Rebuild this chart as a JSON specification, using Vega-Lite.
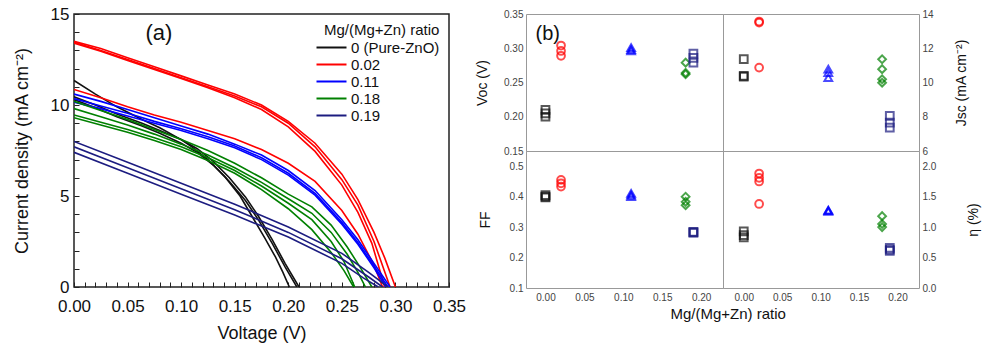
{
  "$schema": "https://vega.github.io/schema/vega-lite/v6.json",
  "padding": {"left": 12, "top": 4, "right": 2, "bottom": 2},
  "background": "white",
  "config": {
    "font": "Liberation Sans",
    "axis": {"grid": false, "domain": false, "labelColor": "#111", "titleColor": "#111", "titleFontWeight": "normal"},
    "view": {"stroke": "#222"}
  },
  "datasets": {
    "jv": [
      {"ratio":"0 (Pure-ZnO)","curve":"K1","v":0,"j":11.35},{"ratio":"0 (Pure-ZnO)","curve":"K1","v":0.02,"j":10.6},{"ratio":"0 (Pure-ZnO)","curve":"K1","v":0.04,"j":9.9},{"ratio":"0 (Pure-ZnO)","curve":"K1","v":0.0635,"j":9.2},{"ratio":"0 (Pure-ZnO)","curve":"K1","v":0.08,"j":8.75},{"ratio":"0 (Pure-ZnO)","curve":"K1","v":0.1,"j":8.1},{"ratio":"0 (Pure-ZnO)","curve":"K1","v":0.11,"j":7.7},{"ratio":"0 (Pure-ZnO)","curve":"K1","v":0.125,"j":7.0},{"ratio":"0 (Pure-ZnO)","curve":"K1","v":0.141,"j":6.05},{"ratio":"0 (Pure-ZnO)","curve":"K1","v":0.155,"j":5.0},{"ratio":"0 (Pure-ZnO)","curve":"K1","v":0.166,"j":3.9},{"ratio":"0 (Pure-ZnO)","curve":"K1","v":0.178,"j":2.7},{"ratio":"0 (Pure-ZnO)","curve":"K1","v":0.188,"j":1.65},{"ratio":"0 (Pure-ZnO)","curve":"K1","v":0.195,"j":0.8},{"ratio":"0 (Pure-ZnO)","curve":"K1","v":0.201,"j":0},
      {"ratio":"0 (Pure-ZnO)","curve":"K2","v":0,"j":10.45},{"ratio":"0 (Pure-ZnO)","curve":"K2","v":0.02,"j":10.0},{"ratio":"0 (Pure-ZnO)","curve":"K2","v":0.04,"j":9.5},{"ratio":"0 (Pure-ZnO)","curve":"K2","v":0.0635,"j":9.0},{"ratio":"0 (Pure-ZnO)","curve":"K2","v":0.08,"j":8.6},{"ratio":"0 (Pure-ZnO)","curve":"K2","v":0.1,"j":8.1},{"ratio":"0 (Pure-ZnO)","curve":"K2","v":0.115,"j":7.6},{"ratio":"0 (Pure-ZnO)","curve":"K2","v":0.13,"j":6.9},{"ratio":"0 (Pure-ZnO)","curve":"K2","v":0.145,"j":6.0},{"ratio":"0 (Pure-ZnO)","curve":"K2","v":0.16,"j":4.95},{"ratio":"0 (Pure-ZnO)","curve":"K2","v":0.172,"j":3.9},{"ratio":"0 (Pure-ZnO)","curve":"K2","v":0.185,"j":2.6},{"ratio":"0 (Pure-ZnO)","curve":"K2","v":0.197,"j":1.3},{"ratio":"0 (Pure-ZnO)","curve":"K2","v":0.21,"j":0},
      {"ratio":"0 (Pure-ZnO)","curve":"K3","v":0,"j":10.3},{"ratio":"0 (Pure-ZnO)","curve":"K3","v":0.02,"j":9.85},{"ratio":"0 (Pure-ZnO)","curve":"K3","v":0.04,"j":9.35},{"ratio":"0 (Pure-ZnO)","curve":"K3","v":0.0635,"j":8.85},{"ratio":"0 (Pure-ZnO)","curve":"K3","v":0.08,"j":8.45},{"ratio":"0 (Pure-ZnO)","curve":"K3","v":0.1,"j":7.9},{"ratio":"0 (Pure-ZnO)","curve":"K3","v":0.115,"j":7.4},{"ratio":"0 (Pure-ZnO)","curve":"K3","v":0.13,"j":6.7},{"ratio":"0 (Pure-ZnO)","curve":"K3","v":0.145,"j":5.8},{"ratio":"0 (Pure-ZnO)","curve":"K3","v":0.16,"j":4.75},{"ratio":"0 (Pure-ZnO)","curve":"K3","v":0.172,"j":3.7},{"ratio":"0 (Pure-ZnO)","curve":"K3","v":0.185,"j":2.4},{"ratio":"0 (Pure-ZnO)","curve":"K3","v":0.197,"j":1.1},{"ratio":"0 (Pure-ZnO)","curve":"K3","v":0.208,"j":0},
      {"ratio":"0.02","curve":"R1","v":0,"j":13.5},{"ratio":"0.02","curve":"R1","v":0.025,"j":13.1},{"ratio":"0.02","curve":"R1","v":0.05,"j":12.6},{"ratio":"0.02","curve":"R1","v":0.075,"j":12.1},{"ratio":"0.02","curve":"R1","v":0.1,"j":11.6},{"ratio":"0.02","curve":"R1","v":0.125,"j":11.1},{"ratio":"0.02","curve":"R1","v":0.15,"j":10.6},{"ratio":"0.02","curve":"R1","v":0.175,"j":10.0},{"ratio":"0.02","curve":"R1","v":0.2,"j":9.1},{"ratio":"0.02","curve":"R1","v":0.225,"j":7.9},{"ratio":"0.02","curve":"R1","v":0.25,"j":6.2},{"ratio":"0.02","curve":"R1","v":0.265,"j":4.8},{"ratio":"0.02","curve":"R1","v":0.28,"j":3.0},{"ratio":"0.02","curve":"R1","v":0.29,"j":1.6},{"ratio":"0.02","curve":"R1","v":0.3,"j":0},
      {"ratio":"0.02","curve":"R2","v":0,"j":13.45},{"ratio":"0.02","curve":"R2","v":0.025,"j":13.0},{"ratio":"0.02","curve":"R2","v":0.05,"j":12.5},{"ratio":"0.02","curve":"R2","v":0.075,"j":12.0},{"ratio":"0.02","curve":"R2","v":0.1,"j":11.5},{"ratio":"0.02","curve":"R2","v":0.125,"j":11.0},{"ratio":"0.02","curve":"R2","v":0.15,"j":10.5},{"ratio":"0.02","curve":"R2","v":0.175,"j":9.9},{"ratio":"0.02","curve":"R2","v":0.2,"j":9.0},{"ratio":"0.02","curve":"R2","v":0.225,"j":7.7},{"ratio":"0.02","curve":"R2","v":0.25,"j":5.9},{"ratio":"0.02","curve":"R2","v":0.265,"j":4.5},{"ratio":"0.02","curve":"R2","v":0.28,"j":2.5},{"ratio":"0.02","curve":"R2","v":0.295,"j":0},
      {"ratio":"0.02","curve":"R3","v":0,"j":13.4},{"ratio":"0.02","curve":"R3","v":0.025,"j":12.95},{"ratio":"0.02","curve":"R3","v":0.05,"j":12.45},{"ratio":"0.02","curve":"R3","v":0.075,"j":11.95},{"ratio":"0.02","curve":"R3","v":0.1,"j":11.45},{"ratio":"0.02","curve":"R3","v":0.125,"j":10.95},{"ratio":"0.02","curve":"R3","v":0.15,"j":10.4},{"ratio":"0.02","curve":"R3","v":0.175,"j":9.75},{"ratio":"0.02","curve":"R3","v":0.2,"j":8.8},{"ratio":"0.02","curve":"R3","v":0.225,"j":7.45},{"ratio":"0.02","curve":"R3","v":0.25,"j":5.6},{"ratio":"0.02","curve":"R3","v":0.265,"j":4.1},{"ratio":"0.02","curve":"R3","v":0.278,"j":2.4},{"ratio":"0.02","curve":"R3","v":0.29,"j":0},
      {"ratio":"0.02","curve":"R4","v":0,"j":10.85},{"ratio":"0.02","curve":"R4","v":0.025,"j":10.4},{"ratio":"0.02","curve":"R4","v":0.05,"j":9.9},{"ratio":"0.02","curve":"R4","v":0.075,"j":9.45},{"ratio":"0.02","curve":"R4","v":0.1,"j":9.05},{"ratio":"0.02","curve":"R4","v":0.125,"j":8.6},{"ratio":"0.02","curve":"R4","v":0.15,"j":8.15},{"ratio":"0.02","curve":"R4","v":0.175,"j":7.55},{"ratio":"0.02","curve":"R4","v":0.2,"j":6.8},{"ratio":"0.02","curve":"R4","v":0.225,"j":5.8},{"ratio":"0.02","curve":"R4","v":0.25,"j":4.2},{"ratio":"0.02","curve":"R4","v":0.265,"j":2.9},{"ratio":"0.02","curve":"R4","v":0.28,"j":1.2},{"ratio":"0.02","curve":"R4","v":0.288,"j":0},
      {"ratio":"0.11","curve":"B1","v":0,"j":10.6},{"ratio":"0.11","curve":"B1","v":0.025,"j":10.2},{"ratio":"0.11","curve":"B1","v":0.05,"j":9.75},{"ratio":"0.11","curve":"B1","v":0.075,"j":9.3},{"ratio":"0.11","curve":"B1","v":0.1,"j":8.85},{"ratio":"0.11","curve":"B1","v":0.125,"j":8.4},{"ratio":"0.11","curve":"B1","v":0.15,"j":7.85},{"ratio":"0.11","curve":"B1","v":0.175,"j":7.25},{"ratio":"0.11","curve":"B1","v":0.2,"j":6.4},{"ratio":"0.11","curve":"B1","v":0.225,"j":5.3},{"ratio":"0.11","curve":"B1","v":0.25,"j":3.7},{"ratio":"0.11","curve":"B1","v":0.265,"j":2.6},{"ratio":"0.11","curve":"B1","v":0.28,"j":1.3},{"ratio":"0.11","curve":"B1","v":0.295,"j":0},
      {"ratio":"0.11","curve":"B2","v":0,"j":10.35},{"ratio":"0.11","curve":"B2","v":0.025,"j":9.95},{"ratio":"0.11","curve":"B2","v":0.05,"j":9.55},{"ratio":"0.11","curve":"B2","v":0.075,"j":9.1},{"ratio":"0.11","curve":"B2","v":0.1,"j":8.7},{"ratio":"0.11","curve":"B2","v":0.125,"j":8.25},{"ratio":"0.11","curve":"B2","v":0.15,"j":7.75},{"ratio":"0.11","curve":"B2","v":0.175,"j":7.1},{"ratio":"0.11","curve":"B2","v":0.2,"j":6.25},{"ratio":"0.11","curve":"B2","v":0.225,"j":5.15},{"ratio":"0.11","curve":"B2","v":0.25,"j":3.55},{"ratio":"0.11","curve":"B2","v":0.265,"j":2.45},{"ratio":"0.11","curve":"B2","v":0.28,"j":1.15},{"ratio":"0.11","curve":"B2","v":0.293,"j":0},
      {"ratio":"0.11","curve":"B3","v":0,"j":10.15},{"ratio":"0.11","curve":"B3","v":0.025,"j":9.8},{"ratio":"0.11","curve":"B3","v":0.05,"j":9.4},{"ratio":"0.11","curve":"B3","v":0.075,"j":9.0},{"ratio":"0.11","curve":"B3","v":0.1,"j":8.6},{"ratio":"0.11","curve":"B3","v":0.125,"j":8.15},{"ratio":"0.11","curve":"B3","v":0.15,"j":7.65},{"ratio":"0.11","curve":"B3","v":0.175,"j":7.0},{"ratio":"0.11","curve":"B3","v":0.2,"j":6.15},{"ratio":"0.11","curve":"B3","v":0.225,"j":5.05},{"ratio":"0.11","curve":"B3","v":0.25,"j":3.45},{"ratio":"0.11","curve":"B3","v":0.265,"j":2.35},{"ratio":"0.11","curve":"B3","v":0.28,"j":1.05},{"ratio":"0.11","curve":"B3","v":0.291,"j":0},
      {"ratio":"0.18","curve":"G1","v":0,"j":10.2},{"ratio":"0.18","curve":"G1","v":0.025,"j":9.7},{"ratio":"0.18","curve":"G1","v":0.05,"j":9.2},{"ratio":"0.18","curve":"G1","v":0.075,"j":8.65},{"ratio":"0.18","curve":"G1","v":0.1,"j":8.1},{"ratio":"0.18","curve":"G1","v":0.125,"j":7.5},{"ratio":"0.18","curve":"G1","v":0.15,"j":6.8},{"ratio":"0.18","curve":"G1","v":0.175,"j":6.0},{"ratio":"0.18","curve":"G1","v":0.2,"j":5.1},{"ratio":"0.18","curve":"G1","v":0.222,"j":4.4},{"ratio":"0.18","curve":"G1","v":0.24,"j":3.4},{"ratio":"0.18","curve":"G1","v":0.255,"j":2.2},{"ratio":"0.18","curve":"G1","v":0.268,"j":1.0},{"ratio":"0.18","curve":"G1","v":0.278,"j":0},
      {"ratio":"0.18","curve":"G2","v":0,"j":9.8},{"ratio":"0.18","curve":"G2","v":0.025,"j":9.35},{"ratio":"0.18","curve":"G2","v":0.05,"j":8.9},{"ratio":"0.18","curve":"G2","v":0.075,"j":8.4},{"ratio":"0.18","curve":"G2","v":0.1,"j":7.85},{"ratio":"0.18","curve":"G2","v":0.125,"j":7.25},{"ratio":"0.18","curve":"G2","v":0.15,"j":6.55},{"ratio":"0.18","curve":"G2","v":0.175,"j":5.75},{"ratio":"0.18","curve":"G2","v":0.2,"j":4.85},{"ratio":"0.18","curve":"G2","v":0.222,"j":4.05},{"ratio":"0.18","curve":"G2","v":0.24,"j":3.0},{"ratio":"0.18","curve":"G2","v":0.255,"j":1.8},{"ratio":"0.18","curve":"G2","v":0.265,"j":0.8},{"ratio":"0.18","curve":"G2","v":0.272,"j":0},
      {"ratio":"0.18","curve":"G3","v":0,"j":9.45},{"ratio":"0.18","curve":"G3","v":0.025,"j":9.05},{"ratio":"0.18","curve":"G3","v":0.05,"j":8.65},{"ratio":"0.18","curve":"G3","v":0.075,"j":8.2},{"ratio":"0.18","curve":"G3","v":0.1,"j":7.7},{"ratio":"0.18","curve":"G3","v":0.125,"j":7.1},{"ratio":"0.18","curve":"G3","v":0.15,"j":6.4},{"ratio":"0.18","curve":"G3","v":0.175,"j":5.55},{"ratio":"0.18","curve":"G3","v":0.2,"j":4.6},{"ratio":"0.18","curve":"G3","v":0.222,"j":3.7},{"ratio":"0.18","curve":"G3","v":0.24,"j":2.5},{"ratio":"0.18","curve":"G3","v":0.252,"j":1.4},{"ratio":"0.18","curve":"G3","v":0.262,"j":0},
      {"ratio":"0.18","curve":"G4","v":0,"j":9.3},{"ratio":"0.18","curve":"G4","v":0.025,"j":8.9},{"ratio":"0.18","curve":"G4","v":0.05,"j":8.5},{"ratio":"0.18","curve":"G4","v":0.075,"j":8.05},{"ratio":"0.18","curve":"G4","v":0.1,"j":7.55},{"ratio":"0.18","curve":"G4","v":0.125,"j":6.95},{"ratio":"0.18","curve":"G4","v":0.15,"j":6.25},{"ratio":"0.18","curve":"G4","v":0.175,"j":5.35},{"ratio":"0.18","curve":"G4","v":0.2,"j":4.3},{"ratio":"0.18","curve":"G4","v":0.222,"j":3.15},{"ratio":"0.18","curve":"G4","v":0.24,"j":1.9},{"ratio":"0.18","curve":"G4","v":0.252,"j":0.9},{"ratio":"0.18","curve":"G4","v":0.261,"j":0},
      {"ratio":"0.19","curve":"N1","v":0,"j":8.0},{"ratio":"0.19","curve":"N1","v":0.05,"j":6.85},{"ratio":"0.19","curve":"N1","v":0.1,"j":5.7},{"ratio":"0.19","curve":"N1","v":0.15,"j":4.55},{"ratio":"0.19","curve":"N1","v":0.2,"j":3.3},{"ratio":"0.19","curve":"N1","v":0.25,"j":1.85},{"ratio":"0.19","curve":"N1","v":0.275,"j":0.8},{"ratio":"0.19","curve":"N1","v":0.293,"j":0},
      {"ratio":"0.19","curve":"N2","v":0,"j":7.7},{"ratio":"0.19","curve":"N2","v":0.05,"j":6.55},{"ratio":"0.19","curve":"N2","v":0.1,"j":5.4},{"ratio":"0.19","curve":"N2","v":0.15,"j":4.25},{"ratio":"0.19","curve":"N2","v":0.2,"j":3.0},{"ratio":"0.19","curve":"N2","v":0.25,"j":1.55},{"ratio":"0.19","curve":"N2","v":0.275,"j":0.55},{"ratio":"0.19","curve":"N2","v":0.288,"j":0},
      {"ratio":"0.19","curve":"N3","v":0,"j":7.4},{"ratio":"0.19","curve":"N3","v":0.05,"j":6.25},{"ratio":"0.19","curve":"N3","v":0.1,"j":5.1},{"ratio":"0.19","curve":"N3","v":0.15,"j":3.95},{"ratio":"0.19","curve":"N3","v":0.2,"j":2.75},{"ratio":"0.19","curve":"N3","v":0.25,"j":1.3},{"ratio":"0.19","curve":"N3","v":0.27,"j":0.5},{"ratio":"0.19","curve":"N3","v":0.284,"j":0}
    ],
    "pts": [
      {"ratio":"0 (Pure-ZnO)","x":0,"metric":"voc","value":0.21},{"ratio":"0 (Pure-ZnO)","x":0,"metric":"voc","value":0.205},{"ratio":"0 (Pure-ZnO)","x":0,"metric":"voc","value":0.2},
      {"ratio":"0.02","x":0.02,"metric":"voc","value":0.304},{"ratio":"0.02","x":0.02,"metric":"voc","value":0.296},{"ratio":"0.02","x":0.02,"metric":"voc","value":0.289},
      {"ratio":"0.11","x":0.11,"metric":"voc","value":0.301},{"ratio":"0.11","x":0.11,"metric":"voc","value":0.298},{"ratio":"0.11","x":0.11,"metric":"voc","value":0.296},
      {"ratio":"0.18","x":0.18,"metric":"voc","value":0.279},{"ratio":"0.18","x":0.18,"metric":"voc","value":0.264},{"ratio":"0.18","x":0.18,"metric":"voc","value":0.262},
      {"ratio":"0.19","x":0.19,"metric":"voc","value":0.292},{"ratio":"0.19","x":0.19,"metric":"voc","value":0.286},{"ratio":"0.19","x":0.19,"metric":"voc","value":0.279},
      {"ratio":"0 (Pure-ZnO)","x":0,"metric":"jsc","value":11.36},{"ratio":"0 (Pure-ZnO)","x":0,"metric":"jsc","value":10.39},{"ratio":"0 (Pure-ZnO)","x":0,"metric":"jsc","value":10.35},
      {"ratio":"0.02","x":0.02,"metric":"jsc","value":13.56},{"ratio":"0.02","x":0.02,"metric":"jsc","value":13.5},{"ratio":"0.02","x":0.02,"metric":"jsc","value":10.87},
      {"ratio":"0.11","x":0.11,"metric":"jsc","value":10.78},{"ratio":"0.11","x":0.11,"metric":"jsc","value":10.58},{"ratio":"0.11","x":0.11,"metric":"jsc","value":10.29},
      {"ratio":"0.18","x":0.18,"metric":"jsc","value":11.36},{"ratio":"0.18","x":0.18,"metric":"jsc","value":10.78},{"ratio":"0.18","x":0.18,"metric":"jsc","value":10.19},{"ratio":"0.18","x":0.18,"metric":"jsc","value":9.99},
      {"ratio":"0.19","x":0.19,"metric":"jsc","value":8.05},{"ratio":"0.19","x":0.19,"metric":"jsc","value":7.65},{"ratio":"0.19","x":0.19,"metric":"jsc","value":7.36},
      {"ratio":"0 (Pure-ZnO)","x":0,"metric":"ff","value":0.405},{"ratio":"0 (Pure-ZnO)","x":0,"metric":"ff","value":0.4},{"ratio":"0 (Pure-ZnO)","x":0,"metric":"ff","value":0.398},
      {"ratio":"0.02","x":0.02,"metric":"ff","value":0.455},{"ratio":"0.02","x":0.02,"metric":"ff","value":0.444},{"ratio":"0.02","x":0.02,"metric":"ff","value":0.433},
      {"ratio":"0.11","x":0.11,"metric":"ff","value":0.411},{"ratio":"0.11","x":0.11,"metric":"ff","value":0.405},{"ratio":"0.11","x":0.11,"metric":"ff","value":0.4},
      {"ratio":"0.18","x":0.18,"metric":"ff","value":0.4},{"ratio":"0.18","x":0.18,"metric":"ff","value":0.383},{"ratio":"0.18","x":0.18,"metric":"ff","value":0.372},
      {"ratio":"0.19","x":0.19,"metric":"ff","value":0.284},{"ratio":"0.19","x":0.19,"metric":"ff","value":0.283},{"ratio":"0.19","x":0.19,"metric":"ff","value":0.282},
      {"ratio":"0 (Pure-ZnO)","x":0,"metric":"eta","value":0.93},{"ratio":"0 (Pure-ZnO)","x":0,"metric":"eta","value":0.87},{"ratio":"0 (Pure-ZnO)","x":0,"metric":"eta","value":0.83},
      {"ratio":"0.02","x":0.02,"metric":"eta","value":1.88},{"ratio":"0.02","x":0.02,"metric":"eta","value":1.81},{"ratio":"0.02","x":0.02,"metric":"eta","value":1.75},{"ratio":"0.02","x":0.02,"metric":"eta","value":1.38},
      {"ratio":"0.11","x":0.11,"metric":"eta","value":1.28},{"ratio":"0.11","x":0.11,"metric":"eta","value":1.27},{"ratio":"0.11","x":0.11,"metric":"eta","value":1.26},
      {"ratio":"0.18","x":0.18,"metric":"eta","value":1.18},{"ratio":"0.18","x":0.18,"metric":"eta","value":1.05},{"ratio":"0.18","x":0.18,"metric":"eta","value":1.0},
      {"ratio":"0.19","x":0.19,"metric":"eta","value":0.66},{"ratio":"0.19","x":0.19,"metric":"eta","value":0.63},{"ratio":"0.19","x":0.19,"metric":"eta","value":0.61}
    ]
  },
  "hconcat": [
    {
      "width": 375,
      "height": 273,
      "view": {"stroke": "#222", "strokeWidth": 1.5},
      "encoding": {
        "x": {"field": "v", "type": "quantitative", "scale": {"domain": [0, 0.35], "nice": false, "zero": false},
          "axis": {"title": "Voltage (V)", "titleFontSize": 18, "labelFontSize": 17, "values": [0,0.01,0.02,0.03,0.04,0.05,0.06,0.07,0.08,0.09,0.1,0.11,0.12,0.13,0.14,0.15,0.16,0.17,0.18,0.19,0.2,0.21,0.22,0.23,0.24,0.25,0.26,0.27,0.28,0.29,0.3,0.31,0.32,0.33,0.34,0.35],
            "labelExpr": "round(datum.value*100) % 5 === 0 ? format(datum.value, '.2f') : ''", "labelOverlap": false, "labelFlush": false, "tickSize": -5, "tickColor": "#222", "labelPadding": 16, "titlePadding": 10}},
        "y": {"field": "j", "type": "quantitative", "scale": {"domain": [0, 15], "nice": false},
          "axis": {"title": "Current density (mA cm⁻²)", "titleFontSize": 18, "labelFontSize": 17, "values": [0,1,2,3,4,5,6,7,8,9,10,11,12,13,14,15],
            "labelExpr": "datum.value % 5 === 0 ? datum.label : ''", "labelOverlap": false, "labelFlush": false, "tickSize": -5, "tickColor": "#222", "labelPadding": 10, "titlePadding": 19}}
      },
      "layer": [
        {
          "data": {"name": "jv"},
          "mark": {"type": "line", "strokeWidth": 1.6, "clip": true},
          "encoding": {
            "color": {"field": "ratio", "type": "nominal",
              "scale": {"domain": ["0 (Pure-ZnO)", "0.02", "0.11", "0.18", "0.19"], "range": ["#111111", "#ff0000", "#0000ff", "#008000", "#1c1c80"]},
              "legend": {"orient": "none", "legendX": 250, "legendY": 9, "title": "Mg/(Mg+Zn) ratio", "titleFontSize": 15, "titleFontWeight": "normal", "titleColor": "#111", "labelFontSize": 15, "labelColor": "#111", "symbolType": "M-3,0H3", "symbolSize": 100, "symbolStrokeWidth": 2, "rowPadding": 1, "labelOffset": 12, "titlePadding": 2}},
            "detail": {"field": "curve"},
            "order": {"field": "v", "type": "quantitative"}
          }
        },
        {
          "data": {"values": [{"v": 0.0793, "j": 13.96, "label": "(a)"}]},
          "mark": {"type": "text", "fontSize": 22, "align": "center", "baseline": "middle", "color": "#111"},
          "encoding": {
            "text": {"field": "label"}
          }
        }
      ]
    },
    {
      "columns": 2,
      "spacing": 0,
      "bounds": "flush",
      "title": {"text": "Mg/(Mg+Zn) ratio", "orient": "bottom", "anchor": "middle", "fontSize": 15, "fontWeight": "normal", "color": "#111", "offset": 4},
      "resolve": {"scale": {"color": "independent", "shape": "independent"}},
      "concat": [
        {
          "width": 197, "height": 137,
          "view": {"stroke": "#999"},
          "encoding": {
            "x": {"field": "x", "type": "quantitative", "scale": {"domain": [-0.025, 0.228], "nice": false, "zero": false}, "axis": null},
            "y": {"field": "value", "type": "quantitative", "scale": {"domain": [0.15, 0.35], "nice": false, "zero": false},
              "axis": {"title": "Voc (V)", "titleFontSize": 14, "labelFontSize": 10, "labelColor": "#444", "values": [0.15, 0.2, 0.25, 0.3, 0.35], "format": ".2f", "ticks": false, "labelPadding": 3, "titlePadding": 14, "labelOverlap": false}}
          },
          "layer": [
            {
              "data": {"name": "pts"},
              "transform": [{"filter": "datum.metric === 'voc'"}],
              "mark": {"type": "point", "filled": false, "strokeWidth": 2, "size": 60},
              "encoding": {
                "color": {"field": "ratio", "type": "nominal", "scale": {"domain": ["0 (Pure-ZnO)", "0.02", "0.11", "0.18", "0.19"], "range": ["#111111", "#ff0000", "#0000ff", "#008000", "#1c1c80"]}, "legend": null},
                "shape": {"field": "ratio", "type": "nominal", "scale": {"domain": ["0 (Pure-ZnO)", "0.02", "0.11", "0.18", "0.19"], "range": ["square", "circle", "triangle-up", "diamond", "square"]}, "legend": null}
              }
            },
            {
              "data": {"values": [{"x": 0.003, "value": 0.321, "label": "(b)"}]},
              "mark": {"type": "text", "fontSize": 20, "align": "center", "baseline": "middle", "color": "#111"},
              "encoding": {
                "text": {"field": "label"}
              }
            }
          ]
        },
        {
          "width": 196, "height": 137,
          "view": {"stroke": "#999"},
          "data": {"name": "pts"},
          "transform": [{"filter": "datum.metric === 'jsc'"}],
          "mark": {"type": "point", "filled": false, "strokeWidth": 2, "size": 60},
          "encoding": {
            "x": {"field": "x", "type": "quantitative", "scale": {"domain": [-0.027, 0.228], "nice": false, "zero": false}, "axis": null},
            "y": {"field": "value", "type": "quantitative", "scale": {"domain": [6, 14], "nice": false, "zero": false},
              "axis": {"orient": "right", "title": "Jsc (mA cm⁻²)", "titleAngle": 270, "titleBaseline": "top", "titleFontSize": 14, "labelFontSize": 10, "labelColor": "#444", "values": [6, 8, 10, 12, 14], "format": "d", "ticks": false, "labelPadding": 3, "titlePadding": 21}},
            "color": {"field": "ratio", "type": "nominal", "scale": {"domain": ["0 (Pure-ZnO)", "0.02", "0.11", "0.18", "0.19"], "range": ["#111111", "#ff0000", "#0000ff", "#008000", "#1c1c80"]}, "legend": null},
            "shape": {"field": "ratio", "type": "nominal", "scale": {"domain": ["0 (Pure-ZnO)", "0.02", "0.11", "0.18", "0.19"], "range": ["square", "circle", "triangle-up", "diamond", "square"]}, "legend": null}
          }
        },
        {
          "width": 197, "height": 137,
          "view": {"stroke": "#999"},
          "data": {"name": "pts"},
          "transform": [{"filter": "datum.metric === 'ff'"}],
          "mark": {"type": "point", "filled": false, "strokeWidth": 2, "size": 60},
          "encoding": {
            "x": {"field": "x", "type": "quantitative", "scale": {"domain": [-0.025, 0.228], "nice": false, "zero": false},
              "axis": {"title": null, "values": [0, 0.05, 0.1, 0.15, 0.2], "format": ".2f", "labelFontSize": 10, "labelColor": "#444", "ticks": false, "labelPadding": 4}},
            "y": {"field": "value", "type": "quantitative", "scale": {"domain": [0.1, 0.55], "nice": false, "zero": false},
              "axis": {"title": "FF", "titleFontSize": 14, "labelFontSize": 10, "labelColor": "#444", "values": [0.1, 0.2, 0.3, 0.4, 0.5], "format": ".1f", "ticks": false, "labelPadding": 3, "titlePadding": 17}},
            "color": {"field": "ratio", "type": "nominal", "scale": {"domain": ["0 (Pure-ZnO)", "0.02", "0.11", "0.18", "0.19"], "range": ["#111111", "#ff0000", "#0000ff", "#008000", "#1c1c80"]}, "legend": null},
            "shape": {"field": "ratio", "type": "nominal", "scale": {"domain": ["0 (Pure-ZnO)", "0.02", "0.11", "0.18", "0.19"], "range": ["square", "circle", "triangle-up", "diamond", "square"]}, "legend": null}
          }
        },
        {
          "width": 196, "height": 137,
          "view": {"stroke": "#999"},
          "data": {"name": "pts"},
          "transform": [{"filter": "datum.metric === 'eta'"}],
          "mark": {"type": "point", "filled": false, "strokeWidth": 2, "size": 60},
          "encoding": {
            "x": {"field": "x", "type": "quantitative", "scale": {"domain": [-0.027, 0.228], "nice": false, "zero": false},
              "axis": {"title": null, "values": [0, 0.05, 0.1, 0.15, 0.2], "format": ".2f", "labelFontSize": 10, "labelColor": "#444", "ticks": false, "labelPadding": 4}},
            "y": {"field": "value", "type": "quantitative", "scale": {"domain": [0, 2.25], "nice": false, "zero": false},
              "axis": {"orient": "right", "title": "η (%)", "titleAngle": 270, "titleBaseline": "top", "titleFontSize": 14, "labelFontSize": 10, "labelColor": "#444", "values": [0, 0.5, 1, 1.5, 2], "format": ".1f", "ticks": false, "labelPadding": 3, "titlePadding": 31}},
            "color": {"field": "ratio", "type": "nominal", "scale": {"domain": ["0 (Pure-ZnO)", "0.02", "0.11", "0.18", "0.19"], "range": ["#111111", "#ff0000", "#0000ff", "#008000", "#1c1c80"]}, "legend": null},
            "shape": {"field": "ratio", "type": "nominal", "scale": {"domain": ["0 (Pure-ZnO)", "0.02", "0.11", "0.18", "0.19"], "range": ["square", "circle", "triangle-up", "diamond", "square"]}, "legend": null}
          }
        }
      ]
    }
  ],
  "spacing": 8,
  "resolve": {"scale": {"color": "independent", "shape": "independent"}, "legend": {"color": "independent"}}
}
